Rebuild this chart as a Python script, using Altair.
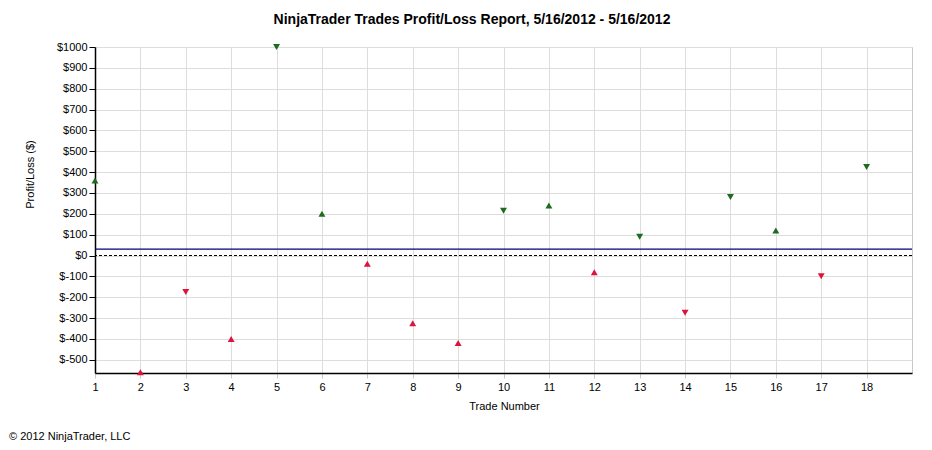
import altair as alt
import pandas as pd

trades = list(range(1, 19))
pnl = [360, -560, -175, -400, 1000, 200, -40, -325, -420, 215, 240, -80, 90, -275, 280, 120, -100, 425]
side = ["Long", "Long", "Short", "Long", "Short", "Long", "Long", "Long", "Long",
        "Short", "Long", "Long", "Short", "Short", "Short", "Long", "Short", "Short"]
y_ticks = list(range(-500, 1001, 100))
title_text = ["NinjaTrader Trades Profit/Loss Report, 5/16/2012 - 5/16/2012"]
copyright_text = ["\u00a9 2012 NinjaTrader, LLC"]

df = pd.DataFrame({"trade": trades, "pnl": pnl, "side": side})

FONT = "Liberation Sans"
W, H = 817, 326

x_scale = alt.Scale(domain=[1, 19], nice=False, zero=False)
y_scale = alt.Scale(domain=[-563.5, 1000], nice=False, zero=False)

x_axis = alt.Axis(values=trades, title="Trade Number", format="d",
                  grid=True, labelOverlap=False, labelFlush=False,
                  tickColor="#c8c8c8", tickSize=5, labelPadding=3,
                  titleX=409, titleY=33, titleBaseline="middle", titleAlign="center")
y_axis = alt.Axis(values=y_ticks, title="Profit/Loss ($)",
                  grid=True, labelOverlap=False, labelFlush=False,
                  labelExpr="'$' + datum.value",
                  tickColor="#000000", tickSize=6, tickWidth=1, labelPadding=2,
                  titleX=-65, titleY=127, titleAngle=270,
                  titleBaseline="middle", titleAlign="center")

base = alt.Chart(df)

zero_rule = base.mark_rule(color="#000000", strokeWidth=1, strokeDash=[3, 2]).encode(
    y=alt.Y(datum=0, type="quantitative", scale=y_scale, axis=y_axis)
)

mean_rule = base.mark_rule(color="#000070", strokeWidth=1.4).encode(
    y=alt.Y("mean(pnl):Q", scale=y_scale, axis=y_axis)
)

points = base.mark_point(filled=True, size=48, opacity=1).encode(
    x=alt.X("trade:Q", scale=x_scale, axis=x_axis),
    y=alt.Y("pnl:Q", scale=y_scale, axis=y_axis),
    shape=alt.Shape("side:N", scale=alt.Scale(domain=["Long", "Short"],
                                               range=["triangle-up", "triangle-down"]),
                    legend=None),
    color=alt.condition(alt.datum.pnl > 0, alt.value("#1d6b1d"), alt.value("#dc143c")),
    tooltip=["trade", "pnl", "side"],
)

title = alt.Chart(pd.DataFrame({"t": title_text})).mark_text(
    font=FONT, fontSize=14, fontWeight="bold", color="#000000",
    align="center", baseline="alphabetic"
).encode(text="t:N", x=alt.value(377), y=alt.value(-23))

copyright = alt.Chart(pd.DataFrame({"t": copyright_text})).mark_text(
    font=FONT, fontSize=11, color="#000000", align="left", baseline="alphabetic"
).encode(text="t:N", x=alt.value(-86), y=alt.value(393))

chart = alt.layer(zero_rule, mean_rule, points, title, copyright).properties(
    width=W, height=H,
    autosize=alt.AutoSizeParams(type="none"),
    padding={"left": 87, "top": 39, "right": 12, "bottom": 69},
    background="#ffffff",
).configure_view(
    stroke="#c8c8c8", strokeWidth=1
).configure_axis(
    labelFont=FONT, titleFont=FONT, labelFontSize=11, titleFontSize=11,
    labelColor="#000000", titleColor="#000000", titleFontWeight="normal",
    gridColor="#dddddd", gridWidth=1, gridOpacity=1,
    domainColor="#000000", domainWidth=1.5,
).configure_axisY(
    labelAlign="right"
)

chart.save("out.html", embed_options={"renderer": "svg", "actions": False})
